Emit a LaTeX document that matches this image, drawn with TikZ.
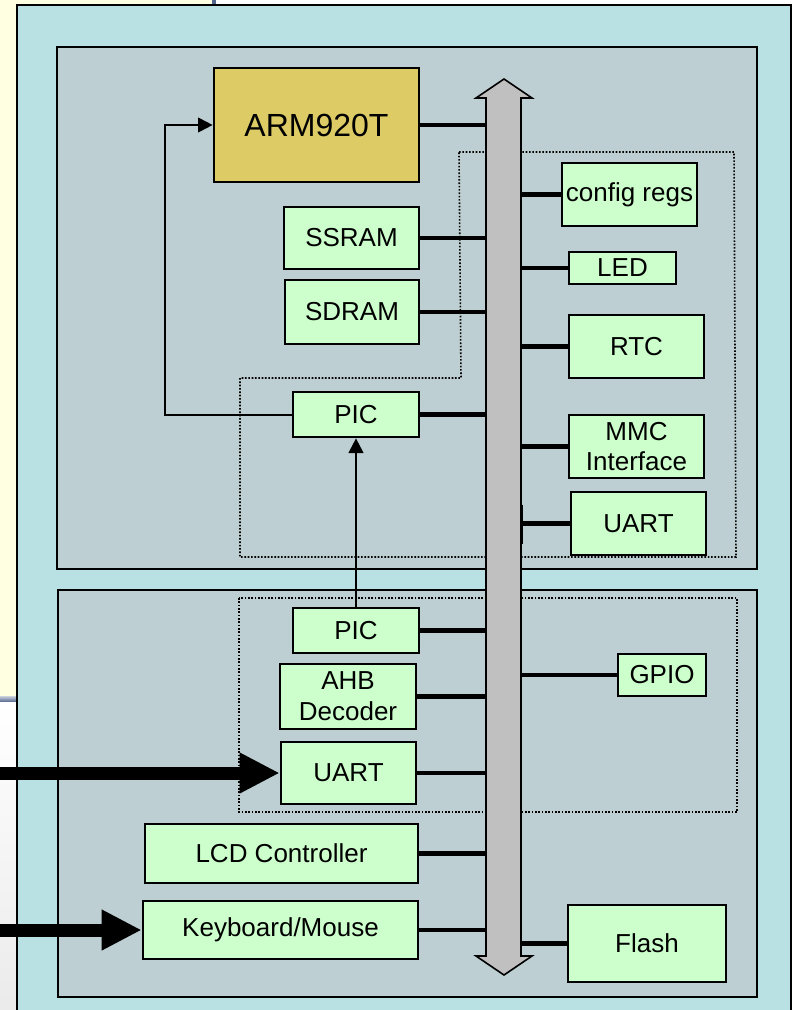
\documentclass[tikz,border=0pt]{standalone}
\usepackage{fontspec}
\setmainfont{Liberation Sans}
\usepackage{xcolor}
\usetikzlibrary{arrows.meta,positioning,calc}

\definecolor{outerblue}{RGB}{185,224,226}
\definecolor{panelgray}{RGB}{189,207,210}
\definecolor{blockgreen}{RGB}{204,255,204}
\definecolor{cpugold}{RGB}{221,204,102}
\definecolor{busgray}{RGB}{192,192,192}
\definecolor{slideyellow}{RGB}{255,255,226}
\definecolor{slideedge}{RGB}{80,100,140}

\newlength\pxu
\setlength\pxu{0.75pt}

\begin{document}
\begin{tikzpicture}[
    x=0.75pt, y=-0.75pt,
    font=\fontsize{19.5}{23}\selectfont,
    block/.style={rectangle, draw, line width=2pt, fill=blockgreen, align=center, inner sep=0pt},
    panel/.style={draw, line width=1.8pt, fill=panelgray},
    region/.style={draw, line width=1.2pt, dash pattern=on 1.2pt off 1.3pt},
    link/.style={line width=3.5pt},
    signal/.style={-{Triangle[length=11pt, width=11pt]}, line width=1.5pt},
    feed/.style={-{Triangle[length=30pt, width=28.5pt]}, line width=9.75pt}
]
    \useasboundingbox (0,0) rectangle (792,1010);

    \fill[slideyellow] (0,0) rectangle (215,697);
    \fill[slideedge] (212,0) rectangle (216,5);
    \shade[top color=slideedge!30, bottom color=slideedge] (0,696) rectangle (17,702);
    \shade[top color=white, bottom color=black!8] (0,702) rectangle (17,1010);

    \draw[line width=2pt, fill=outerblue] (17,5) rectangle (791,1030);
    \draw[panel] (57,47) rectangle (757,569);
    \draw[panel] (58,590) rectangle (757,997);

    \draw[region] (459,152) -- (734,152) -- (736,557) -- (240,557) -- (240,378) -- (461,378) -- cycle;
    \draw[region] (239,598) rectangle (737,812);

    \draw[line width=1.2pt, fill=busgray] (504,79) -- (532,98) -- (521,98) -- (521,956) -- (532,956)
        -- (504,975) -- (476,956) -- (486,956) -- (486,98) -- (476,98) -- cycle;
    \coordinate (busL) at (486,0);
    \coordinate (busR) at (521,0);

    \node[block, fill=cpugold, minimum width=205\pxu, minimum height=114\pxu, font=\fontsize{24}{28}\selectfont] (arm) at (316.5,125) {ARM920T};
    \node[block, minimum width=135\pxu, minimum height=62\pxu] (ssram) at (351.5,238) {SSRAM};
    \node[block, minimum width=134\pxu, minimum height=64\pxu] (sdram) at (352,312) {SDRAM};
    \node[block, minimum width=126\pxu, minimum height=45\pxu] (picA) at (356,414.5) {PIC};
    \node[block, minimum width=135\pxu, minimum height=63\pxu] (cfg) at (629.5,194.5) {config regs};
    \node[block, minimum width=107\pxu, minimum height=32\pxu] (led) at (622.5,268) {LED};
    \node[block, minimum width=135\pxu, minimum height=63\pxu] (rtc) at (636.5,346.5) {RTC};
    \node[block, minimum width=135\pxu, minimum height=63\pxu] (mmc) at (636.5,446.5) {MMC\\Interface};
    \node[block, minimum width=135\pxu, minimum height=63\pxu] (uartA) at (638.5,523.5) {UART};

    \node[block, minimum width=126\pxu, minimum height=45\pxu] (picB) at (356,630.5) {PIC};
    \node[block, minimum width=136\pxu, minimum height=65\pxu] (ahb) at (348,696.5) {AHB\\Decoder};
    \node[block, minimum width=135\pxu, minimum height=62\pxu] (uartB) at (348.5,773) {UART};
    \node[block, minimum width=273\pxu, minimum height=59\pxu] (lcd) at (281.5,853.5) {LCD Controller};
    \node[block, minimum width=275\pxu, minimum height=58\pxu] (kbd) at (280.5,930) {Keyboard/Mouse};
    \node[block, minimum width=88\pxu, minimum height=42\pxu] (gpio) at (662,675) {GPIO};
    \node[block, minimum width=158\pxu, minimum height=77\pxu] (flash) at (647,943.5) {Flash};

    \draw[link] (arm.east) -- (arm.east -| busL);
    \draw[link] (ssram.east) -- (ssram.east -| busL);
    \draw[link] (sdram.east) -- (sdram.east -| busL);
    \draw[link] (picA.east) -- (picA.east -| busL);
    \draw[link] (picB.east) -- (picB.east -| busL);
    \draw[link] (ahb.east) -- (ahb.east -| busL);
    \draw[link] (uartB.east) -- (uartB.east -| busL);
    \draw[link] (lcd.east) -- (lcd.east -| busL);
    \draw[link] (kbd.east) -- (kbd.east -| busL);
    \draw[link] (cfg.west) -- (cfg.west -| busR);
    \draw[link] (led.west) -- (led.west -| busR);
    \draw[link] (rtc.west) -- (rtc.west -| busR);
    \draw[link] (mmc.west) -- (mmc.west -| busR);
    \draw[link] (uartA.west) -- (uartA.west -| busR);
    \draw[link] (gpio.west) -- (gpio.west -| busR);
    \draw[link] (flash.west) -- (flash.west -| busR);
    \draw[line width=1.5pt] ($(uartA.west -| busR)+(1,-19)$) -- ++(0,39);

    \coordinate (bend) at (165,414.5);
    \draw[signal] (picA.west) -- (bend) |- (arm.west);
    \draw[signal] (picB.north) -- (picA.south);

    \coordinate (uartIn) at (-5,773);
    \coordinate (kbdIn) at (-5,930);
    \draw[feed] (uartIn) -- (uartB.west);
    \draw[feed] (kbdIn) -- (kbd.west);
\end{tikzpicture}
\end{document}
